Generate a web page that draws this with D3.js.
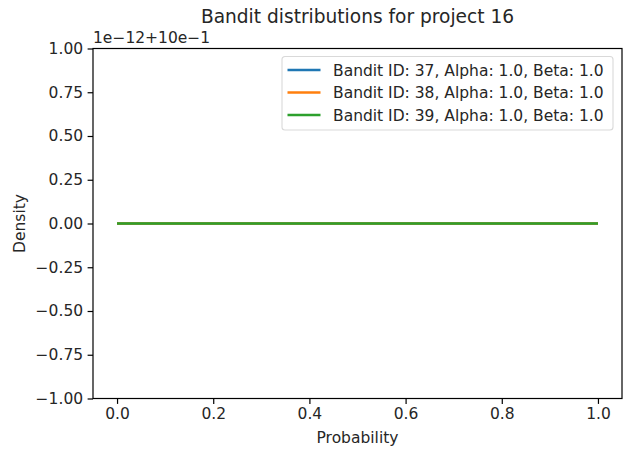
<!DOCTYPE html>
<html>
  <head>
    <meta charset="UTF-8">
    <title>Bandit distributions for project 16</title>
    <style>
      body { margin: 0; background: #fff; }
      text { font-family: 'DejaVu Sans', sans-serif; fill: #262626; }
    </style>
  </head>
  <body>
    <div id='chart'></div>
    <script src='https://d3js.org/d3.v7.min.js'></script>
    <script>
      // data
      const bandits = ['Bandit ID: 37, Alpha: 1.0, Beta: 1.0', 'Bandit ID: 38, Alpha: 1.0, Beta: 1.0', 'Bandit ID: 39, Alpha: 1.0, Beta: 1.0'];
      const probability = [0, 0.25, 0.5, 0.75, 1];
      const density37 = [1.0, 1.0, 1.0, 1.0, 1.0];
      const density38 = [1.0, 1.0, 1.0, 1.0, 1.0];
      const density39 = [1.0, 1.0, 1.0, 1.0, 1.0];
      const xTicks = [0, 0.2, 0.4, 0.6, 0.8, 1.0];
      const yTicks = [-1, -0.75, -0.5, -0.25, 0, 0.25, 0.5, 0.75, 1];
      const yOffset = 1.0;   // shown as 10e-1
      const yScaleExp = 1e-12;
      const colors = ['#1f77b4', '#ff7f0e', '#2ca02c'];

      const width = 629;
      const height = 449;
      const margin = { left: 93, right: 7, top: 48.5, bottom: 50.5 };
      const fs = '15.5px';

      const svg = d3.select('#chart')
        .append('svg')
        .attr('width', width)
        .attr('height', height);

      const x = d3.scaleLinear()
        .domain([-0.05, 1.05])
        .range([margin.left, width - margin.right]);

      // y in offset units: (density - 1.0) / 1e-12
      const y = d3.scaleLinear()
        .domain([-1, 1])
        .range([height - margin.bottom, margin.top]);

      const minus = (s) => s.replace('-', '\u2212');

      const xAxis = svg.append('g')
        .attr('transform', `translate(0,${height - margin.bottom})`)
        .call(d3.axisBottom(x)
          .tickValues(xTicks)
          .tickSize(5.4)
          .tickPadding(4.5)
          .tickFormat((d) => d3.format('.1f')(d)));

      const yAxis = svg.append('g')
        .attr('transform', `translate(${margin.left},0)`)
        .call(d3.axisLeft(y)
          .tickValues(yTicks)
          .tickSize(5.4)
          .tickPadding(4.5)
          .tickFormat((d) => minus(d3.format('.2f')(d))));

      [xAxis, yAxis].forEach((ax) => {
        ax.select('.domain').remove();
        ax.selectAll('line').attr('stroke', '#000').attr('stroke-width', 1.2);
        ax.selectAll('text')
          .style('font-size', fs)
          .style('font-family', "'DejaVu Sans', sans-serif")
          .attr('fill', '#262626');
      });

      // axes frame
      svg.append('rect')
        .attr('x', margin.left)
        .attr('y', margin.top)
        .attr('width', width - margin.left - margin.right)
        .attr('height', height - margin.top - margin.bottom)
        .attr('fill', 'none')
        .attr('stroke', '#000')
        .attr('stroke-width', 1.2);

      const series = [density37, density38, density39];
      const line = d3.line()
        .x((d, i) => x(probability[i]))
        .y((d) => y((d - yOffset) / yScaleExp));

      series.forEach((s, i) => {
        svg.append('path')
          .datum(s)
          .attr('fill', 'none')
          .attr('stroke', colors[i])
          .attr('stroke-width', 2.3)
          .attr('d', line);
      });

      // title, labels, offset text
      svg.append('text')
        .attr('x', (margin.left + width - margin.right) / 2)
        .attr('y', 23)
        .attr('text-anchor', 'middle')
        .style('font-size', '18.6px')
        .text('Bandit distributions for project 16');

      svg.append('text')
        .attr('x', margin.left)
        .attr('y', 43)
        .style('font-size', fs)
        .text('1e\u221212+10e\u22121');

      svg.append('text')
        .attr('x', (margin.left + width - margin.right) / 2)
        .attr('y', 443)
        .attr('text-anchor', 'middle')
        .style('font-size', fs)
        .text('Probability');

      svg.append('text')
        .attr('transform', `translate(25,${y(0)}) rotate(-90)`)
        .attr('text-anchor', 'middle')
        .style('font-size', fs)
        .text('Density');

      // legend
      const legend = svg.append('g').attr('transform', 'translate(282,56.5)');
      legend.append('rect')
        .attr('width', 331)
        .attr('height', 73.5)
        .attr('rx', 3)
        .attr('fill', '#fff')
        .attr('fill-opacity', 0.8)
        .attr('stroke', '#d9d9d9')
        .attr('stroke-width', 1.1);

      bandits.forEach((label, i) => {
        const row = legend.append('g').attr('transform', `translate(0,${13.5 + i * 22.5})`);
        row.append('line')
          .attr('x1', 5.5)
          .attr('x2', 38.5)
          .attr('stroke', colors[i])
          .attr('stroke-width', 2.3);
        row.append('text')
          .attr('x', 51)
          .attr('dy', '0.36em')
          .style('font-size', fs)
          .text(label);
      });
    </script>
  </body>
</html>
